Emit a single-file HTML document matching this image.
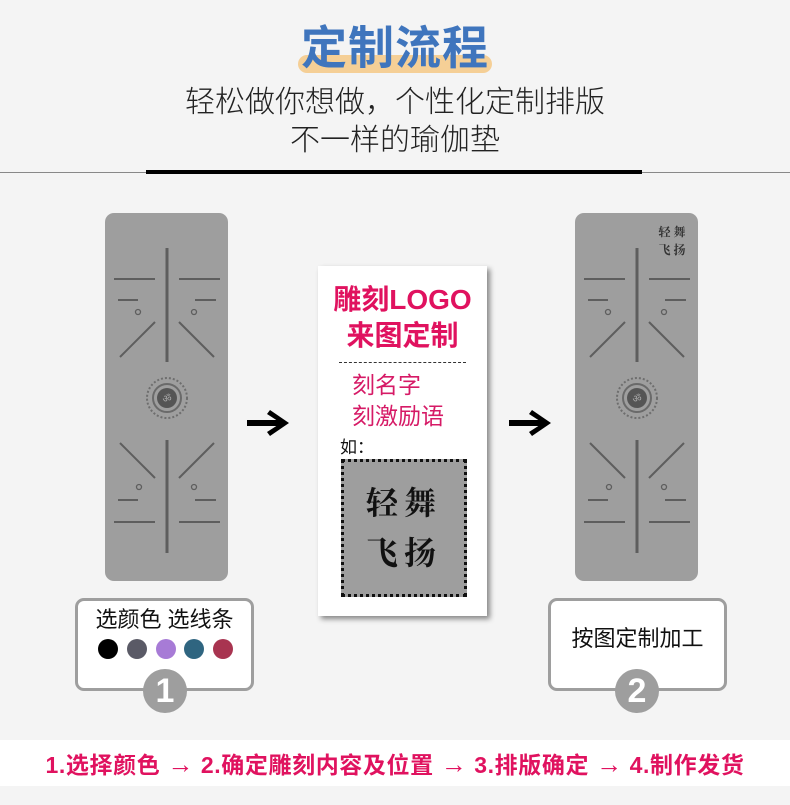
<!DOCTYPE html>
<html><head><meta charset="utf-8"><style>
*{margin:0;padding:0;box-sizing:border-box}
body{width:790px;height:805px;background:#f4f4f4;position:relative;overflow:hidden;font-family:"Liberation Sans","Noto Sans CJK SC",sans-serif}
.a{position:absolute}
</style></head><body>
<div class="a" style="left:298px;top:55px;width:194px;height:18px;background:#f5cf96;border-radius:9px"></div>
<div class="a" style="left:0;top:18px;width:790px;text-align:center;font-size:46px;font-weight:bold;color:#3f75bd;line-height:60px;letter-spacing:1px">定制流程</div>
<div class="a" style="left:0;top:84px;width:790px;text-align:center;font-size:30px;color:#222;line-height:38px;font-weight:300">轻松做你想做，个性化定制排版<br>不一样的瑜伽垫</div>
<div class="a" style="left:0;top:172px;width:790px;height:1px;background:#888"></div>
<div class="a" style="left:146px;top:170px;width:496px;height:4px;background:#000"></div>

<svg class="a" style="left:0;top:0" width="790" height="805">
<defs>
<g id="mat">
<rect x="105" y="213" width="123" height="368" rx="9" fill="#9e9e9e"/>
<g stroke="#5e5e5e" stroke-width="2" fill="none">
<line x1="167" y1="248" x2="167" y2="362" stroke-width="3"/>
<line x1="114" y1="279" x2="155" y2="279"/><line x1="179" y1="279" x2="220" y2="279"/>
<line x1="118" y1="300" x2="138" y2="300"/><line x1="195" y1="300" x2="216" y2="300"/>
<circle cx="138" cy="312" r="2.5" stroke-width="1.3"/><circle cx="194" cy="312" r="2.5" stroke-width="1.3"/>
<line x1="155" y1="322" x2="120" y2="357"/><line x1="179" y1="322" x2="214" y2="357"/>
<line x1="167" y1="440" x2="167" y2="553" stroke-width="3"/>
<line x1="120" y1="443" x2="155" y2="478"/><line x1="214" y1="443" x2="179" y2="478"/>
<circle cx="139" cy="487" r="2.5" stroke-width="1.3"/><circle cx="194" cy="487" r="2.5" stroke-width="1.3"/>
<line x1="118" y1="500" x2="138" y2="500"/><line x1="195" y1="500" x2="216" y2="500"/>
<line x1="114" y1="522" x2="155" y2="522"/><line x1="179" y1="522" x2="220" y2="522"/>
</g>
<circle cx="167" cy="398" r="20" fill="none" stroke="#6e6e6e" stroke-width="2" stroke-dasharray="2 2"/>
<circle cx="167" cy="398" r="14" fill="none" stroke="#6a6a6a" stroke-width="2"/>
<circle cx="167" cy="398" r="10" fill="#555"/>
<text x="167" y="402" font-size="10" fill="#aaa" text-anchor="middle">ॐ</text>
</g>
</defs>
<use href="#mat"/>
<use href="#mat" transform="translate(470,0)"/>
<text x="672" y="236" font-size="12" fill="#333" text-anchor="middle" font-family="Noto Serif CJK SC,serif" font-weight="bold">轻 舞</text>
<text x="672" y="254" font-size="12" fill="#333" text-anchor="middle" font-family="Noto Serif CJK SC,serif" font-weight="bold">飞 扬</text>
<g fill="#000">
<rect x="247" y="420" width="36" height="6"/>
<path d="M270 410 L289 423 L270 436 L267 432 L281 423 L267 414Z"/>
<rect x="509" y="420" width="36" height="6"/>
<path d="M532 410 L551 423 L532 436 L529 432 L543 423 L529 414Z"/>
</g>
</svg>

<div class="a" style="left:318px;top:266px;width:169px;height:350px;background:#fff;box-shadow:3px 3px 5px rgba(0,0,0,.45)"></div>
<div class="a" style="left:318px;top:282px;width:169px;text-align:center;font-size:28px;font-weight:bold;color:#e0125f;line-height:36px">雕刻LOGO<br>来图定制</div>
<div class="a" style="left:339px;top:362px;width:127px;border-top:1px dashed #333"></div>
<div class="a" style="left:352px;top:370px;font-size:23px;color:#d61a66;line-height:31px">刻名字<br>刻激励语</div>
<div class="a" style="left:340px;top:433px;font-size:17px;color:#111">如：</div>
<div class="a" style="left:341px;top:459px;width:126px;height:138px;background:#9e9e9e;border:3px dotted #111"></div>
<div class="a" style="left:341px;top:476px;width:126px;text-align:center;font-size:32px;font-weight:bold;color:#111;line-height:50px;font-family:'Noto Serif CJK SC',serif;letter-spacing:6px">轻舞<br>飞扬</div>

<div class="a" style="left:75px;top:598px;width:179px;height:93px;background:#fff;border:3px solid #9e9e9e;border-radius:9px"></div>
<div class="a" style="left:75px;top:602px;width:179px;text-align:center;font-size:22px;color:#111">选颜色 选线条</div>
<svg class="a" style="left:0;top:600px" width="790" height="120">
<circle cx="108" cy="49" r="10" fill="#000"/><circle cx="137" cy="49" r="10" fill="#5a5a66"/><circle cx="166" cy="49" r="10" fill="#a77bd6"/><circle cx="194" cy="49" r="10" fill="#2f6580"/><circle cx="223" cy="49" r="10" fill="#a83450"/>
</svg>
<div class="a" style="left:548px;top:598px;width:179px;height:93px;background:#fff;border:3px solid #9e9e9e;border-radius:9px"></div>
<div class="a" style="left:548px;top:621px;width:179px;text-align:center;font-size:22px;color:#111">按图定制加工</div>
<div class="a" style="left:143px;top:669px;width:44px;height:44px;border-radius:50%;background:#9e9e9e;color:#fff;font-size:34px;font-weight:bold;text-align:center;line-height:44px">1</div>
<div class="a" style="left:615px;top:669px;width:44px;height:44px;border-radius:50%;background:#9e9e9e;color:#fff;font-size:34px;font-weight:bold;text-align:center;line-height:44px">2</div>

<div class="a" style="left:0;top:740px;width:790px;height:46px;background:#fff"></div>
<div class="a" style="left:0;top:749px;width:790px;text-align:center;font-size:23px;font-weight:bold;color:#e0125f;line-height:30px;white-space:nowrap;letter-spacing:0.6px">1.选择颜色 <span style="font-size:26px">→</span> 2.确定雕刻内容及位置 <span style="font-size:26px">→</span> 3.排版确定 <span style="font-size:26px">→</span> 4.制作发货</div>
</body></html>
